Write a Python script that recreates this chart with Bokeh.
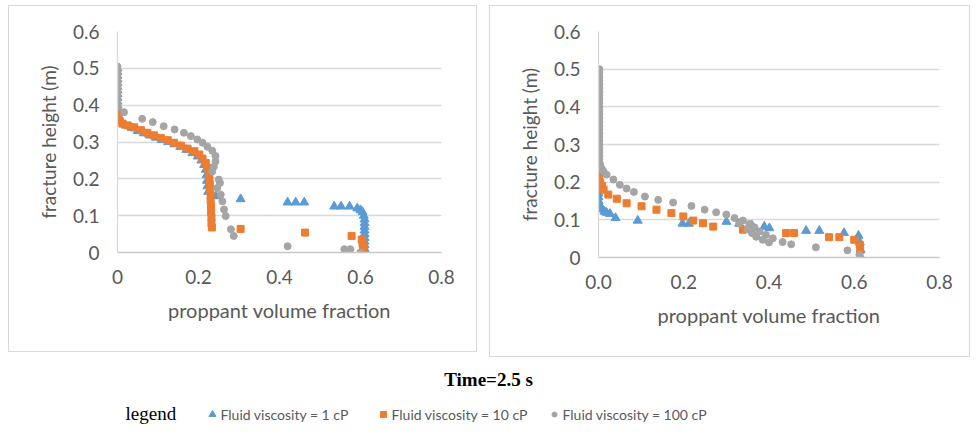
from bokeh.plotting import figure
from bokeh.layouts import column, row, Spacer
from bokeh.models import Range1d, FixedTicker
from bokeh.core.properties import value
from bokeh.embed import file_html
from bokeh.resources import INLINE

# ---------------- data ----------------
# Left panel
L1_x = [0, 0, 0, 0, 0, 0, 0, 0, 0, 0, 0, 0, 0,
        0.003, 0.01, 0.02, 0.035, 0.05, 0.065, 0.08, 0.095, 0.11, 0.125, 0.14, 0.155, 0.17,
        0.185, 0.198, 0.207, 0.214, 0.218, 0.22, 0.221, 0.222, 0.224, 0.243, 0.304,
        0.42, 0.44, 0.461, 0.535, 0.552, 0.573, 0.592, 0.60, 0.605, 0.608, 0.61, 0.61, 0.61,
        0.61, 0.61, 0.61, 0.61, 0.61, 0.61, 0.61]
L1_y = [0.50, 0.49, 0.48, 0.47, 0.46, 0.45, 0.44, 0.43, 0.42, 0.41, 0.40, 0.39, 0.38,
        0.37, 0.355, 0.345, 0.338, 0.33, 0.324, 0.318, 0.312, 0.306, 0.30, 0.294, 0.287, 0.279,
        0.27, 0.261, 0.25, 0.238, 0.225, 0.21, 0.195, 0.18, 0.165, 0.153, 0.145,
        0.136, 0.136, 0.136, 0.125, 0.125, 0.125, 0.12, 0.115, 0.11, 0.10, 0.09, 0.08, 0.07,
        0.06, 0.05, 0.04, 0.03, 0.02, 0.01, 0.0]

L10_x = [0, 0, 0.002, 0.005, 0.012, 0.025, 0.041, 0.058, 0.074, 0.09, 0.107, 0.124, 0.14,
         0.157, 0.173, 0.19, 0.202, 0.21, 0.218, 0.222, 0.226, 0.227, 0.228, 0.229, 0.23,
         0.23, 0.231, 0.231, 0.232, 0.232, 0.233, 0.304, 0.463, 0.578, 0.603, 0.605, 0.606, 0.607]
L10_y = [0.385, 0.375, 0.365, 0.357, 0.35, 0.345, 0.34, 0.332, 0.325, 0.318, 0.311, 0.305, 0.298,
         0.29, 0.282, 0.275, 0.266, 0.255, 0.243, 0.23, 0.215, 0.20, 0.185, 0.17, 0.155,
         0.14, 0.125, 0.11, 0.095, 0.08, 0.068, 0.064, 0.054, 0.045, 0.035, 0.025, 0.015, 0.005]

L100_x = [0, 0, 0, 0, 0, 0, 0, 0, 0, 0, 0, 0,
          0.016, 0.061, 0.087, 0.114, 0.141, 0.164, 0.181, 0.197, 0.21, 0.222, 0.234, 0.242,
          0.242, 0.238, 0.234, 0.25, 0.253, 0.246, 0.255, 0.259, 0.263, 0.267, 0.28, 0.287,
          0.42, 0.56, 0.575, 0.60]
L100_y = [0.505, 0.495, 0.485, 0.475, 0.465, 0.455, 0.445, 0.435, 0.425, 0.415, 0.405, 0.395,
          0.381, 0.363, 0.354, 0.343, 0.334, 0.325, 0.316, 0.307, 0.298, 0.287, 0.276, 0.262,
          0.247, 0.233, 0.22, 0.198, 0.189, 0.175, 0.157, 0.139, 0.117, 0.099, 0.063, 0.045,
          0.017, 0.009, 0.009, 0.0]

# Right panel
R1_x = [0, 0, 0, 0, 0, 0, 0, 0, 0, 0, 0, 0.001, 0.004, 0.008, 0.014, 0.019, 0.027, 0.04,
        0.092, 0.197, 0.212, 0.30, 0.33, 0.36, 0.389, 0.401, 0.487, 0.518, 0.576, 0.61,
        0.613, 0.615, 0.615]
R1_y = [0.25, 0.24, 0.23, 0.22, 0.21, 0.20, 0.19, 0.18, 0.17, 0.16, 0.15, 0.144, 0.135, 0.128,
        0.122, 0.119, 0.116, 0.105, 0.098, 0.09, 0.09, 0.095, 0.09, 0.085, 0.082, 0.078,
        0.071, 0.071, 0.065, 0.058, 0.04, 0.02, 0.003]

R10_x = [0, 0.001, 0.004, 0.008, 0.012, 0.023, 0.043, 0.066, 0.101, 0.136, 0.171, 0.199,
         0.222, 0.245, 0.269, 0.339, 0.44, 0.459, 0.541, 0.565, 0.60, 0.613, 0.614]
R10_y = [0.22, 0.213, 0.20, 0.19, 0.18, 0.167, 0.156, 0.144, 0.136, 0.127, 0.118, 0.109,
         0.098, 0.091, 0.082, 0.074, 0.065, 0.065, 0.054, 0.054, 0.047, 0.034, 0.02]

R100_x = [0.002, 0.002, 0.002, 0.002, 0.002, 0.002, 0.002, 0.002, 0.002, 0.002, 0.002, 0.002,
          0.002, 0.002, 0.002, 0.002, 0.002, 0.002, 0.002, 0.002, 0.002, 0.002, 0.002, 0.002,
          0.002, 0.003, 0.004, 0.008, 0.012, 0.019, 0.035, 0.05, 0.066, 0.083, 0.109, 0.14,
          0.175, 0.218, 0.249, 0.276, 0.30, 0.319, 0.339, 0.354, 0.366, 0.378, 0.393, 0.409,
          0.432, 0.452, 0.51, 0.584, 0.612, 0.33, 0.35, 0.36, 0.37, 0.385, 0.40]
R100_y = [0.50, 0.49, 0.48, 0.47, 0.46, 0.45, 0.44, 0.43, 0.42, 0.41, 0.40, 0.39,
          0.38, 0.37, 0.36, 0.35, 0.34, 0.33, 0.32, 0.31, 0.30, 0.29, 0.28, 0.27,
          0.26, 0.25, 0.245, 0.235, 0.228, 0.22, 0.207, 0.193, 0.183, 0.174, 0.162, 0.153,
          0.146, 0.137, 0.127, 0.12, 0.114, 0.105, 0.098, 0.089, 0.08, 0.069, 0.06, 0.051,
          0.041, 0.035, 0.027, 0.019, 0.007, 0.09, 0.075, 0.065, 0.055, 0.047, 0.04]

x_ticks = [0, 0.2, 0.4, 0.6, 0.8]
left_x_labels = ["0", "0.2", "0.4", "0.6", "0.8"]
right_x_labels = ["0.0", "0.2", "0.4", "0.6", "0.8"]
y_ticks = [0, 0.1, 0.2, 0.3, 0.4, 0.5, 0.6]
y_labels = ["0", "0.1", "0.2", "0.3", "0.4", "0.5", "0.6"]

series_names = ["Fluid viscosity = 1 cP", "Fluid viscosity = 10 cP", "Fluid viscosity = 100 cP"]
title_text = "Time=2.5 s"
x_title = "proppant volume fraction"
y_title = "fracture height (m)"

BLUE = "#5B9BD5"
ORANGE = "#ED7D31"
GRAY = "#A5A5A5"
TXT = "#595959"
FONT = "Lato"


def make_panel(width, height, bl, br, bt, bb, xlabels, data):
    p = figure(width=width, height=height, x_range=Range1d(0, 0.8), y_range=Range1d(0, 0.6),
               output_backend="svg", toolbar_location=None,
               min_border_left=bl, min_border_right=br, min_border_top=bt, min_border_bottom=bb,
               styles={"border": "1px solid #d9d9d9"})
    p.outline_line_color = None
    p.background_fill_color = "white"
    p.border_fill_color = "white"
    p.xgrid.grid_line_color = None
    p.ygrid.grid_line_color = "#d9d9d9"
    p.ygrid.grid_line_width = 1.3
    p.xaxis.ticker = FixedTicker(ticks=x_ticks)
    p.yaxis.ticker = FixedTicker(ticks=y_ticks)
    p.xaxis.major_label_overrides = {t: s for t, s in zip(x_ticks, xlabels)}
    p.yaxis.major_label_overrides = {t: s for t, s in zip(y_ticks, y_labels)}
    p.xaxis.axis_line_color = "#c8c8c8"
    p.xaxis.axis_line_width = 1.3
    p.yaxis.axis_line_color = "#d9d9d9"
    p.yaxis.axis_line_width = 1.3
    for ax in (p.xaxis, p.yaxis):
        ax.major_tick_line_color = None
        ax.minor_tick_line_color = None
        ax.major_tick_out = 0
        ax.major_tick_in = 0
        ax.major_label_text_font = FONT
        ax.major_label_text_font_size = "19px"
        ax.major_label_text_color = TXT
        ax.axis_label_text_font = FONT
        ax.axis_label_text_font_style = "normal"
        ax.axis_label_text_color = TXT
    p.xaxis.axis_label_text_font_size = "20px"
    p.yaxis.axis_label_text_font_size = "19px"
    p.xaxis.major_label_standoff = 17
    p.yaxis.major_label_standoff = 18
    p.xaxis.axis_label = x_title
    p.yaxis.axis_label = y_title
    p.xaxis.axis_label_standoff = 11
    p.yaxis.axis_label_standoff = 10
    (x1, y1), (x10, y10), (x100, y100) = data
    p.scatter(x1, y1, marker="triangle", size=9, color=BLUE)
    p.scatter(x10, y10, marker="square", size=7, color=ORANGE)
    p.scatter(x100, y100, marker="circle", size=7, color=GRAY)
    return p


p1 = make_panel(469, 347, 108, 37, 25, 99, left_x_labels,
                [(L1_x, L1_y), (L10_x, L10_y), (L100_x, L100_y)])
p2 = make_panel(481, 352, 108, 32, 25, 101, right_x_labels,
                [(R1_x, R1_y), (R10_x, R10_y), (R100_x, R100_y)])

# title + legend strip
p3 = figure(width=976, height=74, x_range=Range1d(0, 976), y_range=Range1d(74, 0),
            output_backend="svg", toolbar_location=None, x_axis_type=None, y_axis_type=None,
            min_border=0)
p3.outline_line_color = None
p3.grid.visible = False
p3.text(x=[488], y=[22], text=[title_text], text_font=value("Liberation Serif"),
        text_font_style="bold", text_font_size="19px", text_align="center",
        text_baseline="middle", text_color="black")
p3.text(x=[125], y=[56], text=["legend"], text_font=value("Liberation Serif"),
        text_font_size="19px", text_align="left", text_baseline="middle", text_color="black")
leg_x = [212, 383, 554]
markers = ["triangle", "square", "circle"]
colors = [BLUE, ORANGE, GRAY]
sizes = [7, 6, 5]
for lx, m, c, s, name in zip(leg_x, markers, colors, sizes, series_names):
    p3.scatter([lx], [57], marker=m, size=s, color=c)
    p3.text(x=[lx + 8], y=[57], text=[name], text_font=value(FONT), text_font_size="14px",
            text_align="left", text_baseline="middle", text_color=TXT)

layout = column(Spacer(height=5),
                row(Spacer(width=8), p1, Spacer(width=12), p2),
                p3)

open("out.html", "w").write(file_html(layout, INLINE))
